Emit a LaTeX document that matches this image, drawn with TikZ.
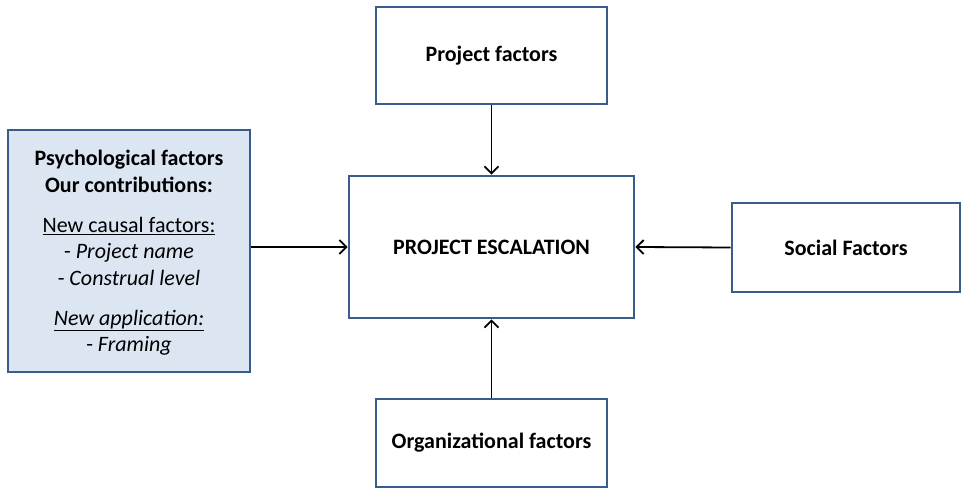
\documentclass[tikz,border=0pt]{standalone}
\usepackage{fontspec}
\setmainfont{Carlito}
\usetikzlibrary{arrows.meta}
\definecolor{boxblue}{HTML}{385D8A}
\definecolor{boxfill}{HTML}{DCE6F2}
\tikzset{
  fbox/.style={draw=boxblue, line width=2.8pt, fill=white, inner sep=0pt, font=\fontsize{22}{26}\selectfont\bfseries, align=center},
  conn/.style={-{Straight Barb[length=7pt,width=14pt,line width=1.8pt]}, line width=1.8pt, black}
}
\begin{document}
\begin{tikzpicture}[x=1pt,y=-1pt]
\useasboundingbox (0,0) rectangle (962,489);
\node[fbox, minimum width=231pt, minimum height=97pt] (pf) at (491.5,55.5) {Project factors};
\node[fbox, minimum width=285pt, minimum height=142pt] (esc) at (491.5,247) {PROJECT ESCALATION};
\node[fbox, minimum width=228pt, minimum height=89pt] (soc) at (846,247.5) {Social Factors};
\node[fbox, minimum width=231pt, minimum height=88pt] (org) at (491.5,443) {Organizational factors};
\node[fbox, fill=boxfill, minimum width=242pt, minimum height=242pt] (psy) at (129,251) {};
\node[align=center, inner sep=0pt, font=\fontsize{22}{26.5}\selectfont] (psytext) at (129,253) {%
\textbf{Psychological factors}\\
\textbf{Our contributions:}\\[13.5pt]
\underline{New causal factors:}\\
- \textit{Project name}\\
- \textit{Construal level}\\[13.5pt]
\underline{\textit{New application:}}\\
- \textit{Framing}};
\draw[conn] (pf.south) -- (esc.north);
\draw[conn] (org.north) -- (esc.south);
\draw[conn] (esc.west -| psy.east) -- (esc.west);
\draw[conn] (soc.west) -- (esc.east);
\end{tikzpicture}
\end{document}
